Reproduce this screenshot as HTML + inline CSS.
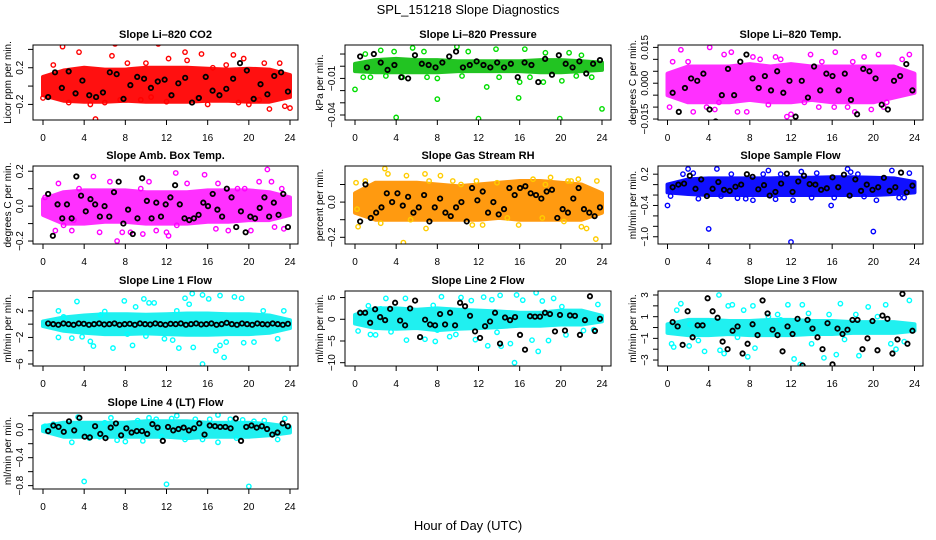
<!DOCTYPE html>
<html><head><meta charset="utf-8">
<style>
html,body{margin:0;padding:0;background:#fff;}
svg{display:block;font-family:"Liberation Sans",sans-serif;}
</style></head>
<body>
<svg id="chart" width="936" height="540" viewBox="0 0 936 540" xmlns="http://www.w3.org/2000/svg">
<rect width="936" height="540" fill="#fff"/>
<text x="468" y="14" font-size="13" text-anchor="middle">SPL_151218  Slope Diagnostics</text>
<text x="468" y="530" font-size="13" text-anchor="middle">Hour of Day (UTC)</text>
</svg>
<script>
const xTicks=[0,4,8,12,16,20,24];
const bandHours=[0,2,4,6,8,10,12,14,16,18,20,22,24];

const co2Lo=[-0.1,-0.16,-0.17,-0.17,-0.16,-0.17,-0.17,-0.17,-0.16,-0.16,-0.17,-0.17,-0.12];
const co2Hi=[0.1,0.17,0.2,0.18,0.18,0.2,0.2,0.2,0.19,0.18,0.19,0.18,0.12];
const co2Pts=[[0,-0.13],[1.9,0.43],[3.5,0.37],[4.6,-0.2],[5.1,-0.36],[6.7,0.33],[7,0.46],[7.5,-0.15],[8.2,0.25],[9.5,-0.15],[10.5,-0.12],[11.2,0.46],[12.2,0.3],[13.5,-0.45],[13.8,0.37],[15,-0.13],[15.4,0.35],[16.5,0.2],[17.8,0.23],[18.5,0.34],[19,-0.18],[19.5,0.3],[20,-0.2],[21.5,0.25],[22,-0.25],[23,0.25],[23.5,-0.22],[24,-0.24],[2.5,-0.18],[10,0.25],[12,-0.17],[16,-0.2],[1,0.23],[6,-0.18],[14,0.28],[21,-0.15]];
const co2Blk=[-0.12,0.15,-0.02,0.16,-0.08,0.06,-0.1,-0.12,-0.07,0.15,0.13,-0.14,0.01,0.1,0.08,-0.02,0.05,0.07,-0.1,0.03,0.09,-0.18,-0.13,0.1,-0.05,-0.1,-0.03,0.08,0.25,0.17,-0.14,0.02,-0.09,0.11,0.15,-0.06];

const presLo=[-0.004,-0.005,-0.005,-0.005,-0.005,-0.004,-0.004,-0.004,-0.004,-0.005,-0.005,-0.004,-0.003];
const presHi=[0.002,0.005,0.006,0.005,0.005,0.004,0.004,0.004,0.004,0.005,0.005,0.004,0.003];
const presPts=[[0,-0.019],[0.8,-0.009],[1.5,-0.009],[2.5,0.013],[3,-0.008],[4,-0.042],[4.6,-0.009],[5.6,0.015],[6.7,0.012],[7,-0.009],[8,-0.027],[8,-0.01],[9.9,0.016],[10.4,-0.008],[12,-0.043],[12.8,-0.017],[13.7,0.014],[14,-0.009],[15.9,-0.026],[16,-0.013],[16.5,0.014],[17,-0.009],[18.3,-0.013],[18.5,0.011],[19.9,-0.043],[20.1,-0.012],[20.8,0.011],[21.5,-0.008],[23,-0.009],[24,-0.035],[3.8,0.012],[11,0.012],[22,0.009],[1,0.01]];
const presBlk=[0.008,-0.001,0.01,0.003,-0.003,0.001,-0.009,-0.01,0.009,0.002,0.001,-0.001,0.003,0.008,0.012,-0.001,0.001,0.004,0.001,-0.001,0.003,-0.001,0.002,-0.009,0.003,0.001,-0.013,0.006,-0.007,0.009,0.002,-0.001,0.004,-0.006,0.002,0.005];

const tempLo=[-0.005,-0.008,-0.008,-0.008,-0.007,-0.008,-0.008,-0.007,-0.008,-0.008,-0.008,-0.006,-0.004];
const tempHi=[0.004,0.007,0.007,0.007,0.008,0.007,0.008,0.007,0.007,0.007,0.007,0.007,0.004];
const tempPts=[[0.2,-0.01],[1.3,0.014],[2.5,-0.012],[3.8,-0.01],[4.1,0.015],[4.6,-0.011],[5.5,0.012],[6.2,0.013],[6.8,-0.012],[7.7,-0.012],[8.3,0.011],[9.8,-0.009],[11,0.01],[11.6,-0.014],[12,-0.013],[13.3,-0.008],[13.9,0.012],[14.7,-0.01],[16.3,0.013],[16.2,-0.01],[17.5,-0.01],[18.2,-0.012],[19.1,0.011],[19.8,-0.011],[20.5,0.012],[21.3,-0.008],[22.8,0.01],[23.5,0.012],[2,0.009],[9,0.01],[15,0.009],[21,-0.01],[0.5,0.009],[5,-0.008],[10.5,0.011],[18,0.009]];
const tempBlk=[-0.004,-0.012,-0.002,0.002,0.001,0.004,-0.011,-0.016,-0.005,0.006,-0.005,0.009,0.012,0.002,-0.002,0.003,-0.003,0.005,-0.004,0.001,-0.014,0.001,-0.006,0.007,-0.003,0.004,0.003,-0.003,0.004,-0.007,-0.013,0.006,0.005,0.002,-0.009,-0.011,0.001,0.003,0.008,-0.003];

const ambLo=[-0.05,-0.1,-0.1,-0.09,-0.09,-0.1,-0.1,-0.1,-0.09,-0.09,-0.08,-0.08,-0.05];
const ambHi=[0.04,0.08,0.09,0.09,0.09,0.08,0.08,0.08,0.09,0.09,0.09,0.08,0.05];
const ambPts=[[1.2,-0.14],[1.5,0.13],[2,-0.11],[2.8,-0.14],[3.5,0.1],[4.9,0.17],[5.5,-0.15],[7.2,-0.2],[7.7,-0.15],[8.5,-0.15],[9.7,-0.16],[10.3,0.14],[11,-0.14],[12,-0.15],[12.2,-0.17],[12.9,0.19],[14,0.13],[15.7,0.18],[16.8,-0.13],[18,-0.14],[18.9,0.1],[19.6,0.1],[20.2,-0.14],[21,0.14],[22.2,0.14],[22.5,-0.12],[23.2,0.1],[23.4,-0.13],[21.8,0.21],[6.5,0.14],[9.5,0.1],[17,0.13],[3,-0.08],[13,-0.11],[0.2,0.05]];
const ambBlk=[0.07,-0.17,0.01,-0.07,0.01,-0.07,0.17,0.06,-0.03,0.04,0.01,-0.06,0.0,-0.06,0.08,0.14,-0.1,-0.02,-0.16,-0.07,0.16,0.03,-0.07,0.02,-0.06,0.01,0.05,0.12,0.01,-0.07,-0.08,-0.07,-0.05,0.02,0.0,0.07,-0.02,-0.06,0.1,0.05,-0.12,-0.03,-0.15,-0.06,-0.07,-0.01,0.05,-0.06,0.02,-0.05,0.07,-0.12];

const rhLo=[-0.06,-0.1,-0.1,-0.1,-0.1,-0.1,-0.1,-0.09,-0.1,-0.1,-0.1,-0.1,-0.06];
const rhHi=[0.05,0.11,0.11,0.11,0.1,0.09,0.1,0.11,0.12,0.12,0.11,0.1,0.05];
const rhPts=[[0.3,-0.14],[0.1,0.11],[1,0.12],[2.5,-0.12],[2.9,0.19],[3.2,0.16],[4.7,-0.23],[5,0.15],[6.8,0.16],[6.9,-0.15],[7.2,0.12],[8.3,0.15],[9.5,0.12],[10.3,0.1],[11.4,-0.13],[11.8,0.12],[12.4,-0.13],[13.8,0.11],[15.9,-0.13],[17.3,0.13],[18.2,-0.09],[19,0.14],[20.3,-0.11],[21,0.12],[21.7,0.13],[22,-0.14],[22.5,-0.15],[23.4,-0.21],[23.5,0.12],[0.2,-0.04],[5.4,-0.1],[14.8,-0.09],[18.5,0.1],[20.7,0.12]];
const rhBlk=[-0.11,0.1,-0.09,-0.06,-0.03,0.05,0.0,0.05,-0.02,0.03,-0.06,-0.03,0.04,-0.11,-0.03,0.02,-0.06,-0.08,-0.03,0.0,-0.11,0.08,0.01,0.06,-0.06,0.0,-0.07,-0.04,0.08,0.04,0.08,0.09,0.05,0.04,0.02,0.06,0.07,-0.09,-0.04,-0.06,0.02,0.08,-0.04,-0.06,-0.08,-0.03];

const sampLo=[-0.15,-0.18,-0.2,-0.2,-0.2,-0.2,-0.2,-0.2,-0.2,-0.2,-0.2,-0.18,-0.15];
const sampHi=[0.0,0.1,0.12,0.12,0.12,0.12,0.13,0.13,0.14,0.14,0.13,0.12,0.05];
const sampPts=[[0,-0.4],[0.3,-0.22],[2,0.3],[2.5,0.22],[4,-0.85],[4.8,0.3],[5.2,-0.22],[6.2,0.2],[7.6,-0.27],[8.3,-0.3],[9.3,0.2],[9.8,0.27],[10.5,-0.28],[12,-1.1],[12.2,-0.3],[13,0.25],[14,-0.25],[15.9,-0.4],[16.2,-0.25],[17.5,0.3],[17.8,0.24],[19.1,-0.23],[20,-0.9],[20.3,-0.3],[21.8,0.27],[22.5,-0.25],[23.5,0.22],[3,-0.27],[11,0.2],[14.5,0.22],[18.5,0.2],[6.8,-0.26],[1.5,0.2],[23,-0.25]];
const sampBlk=[-0.05,0.0,0.02,0.17,-0.08,0.1,-0.22,-0.08,0.05,-0.1,-0.12,-0.04,0.0,0.2,0.15,-0.09,-0.01,-0.21,-0.14,0.02,0.21,-0.14,0.06,0.17,0.01,0.0,-0.1,-0.07,0.14,-0.05,0.19,-0.21,0.1,-0.12,0.0,-0.1,-0.05,0.13,-0.12,-0.05,0.23,-0.15,-0.02];

const l1Lo=[-0.3,-1.0,-1.3,-1.5,-1.5,-1.4,-1.5,-1.6,-1.6,-1.5,-1.5,-1.3,-0.6];
const l1Hi=[0.4,1.0,1.3,1.5,1.5,1.4,1.5,1.6,1.6,1.5,1.5,1.3,0.6];
const l1Pts=[[1.5,2],[1.5,-2],[2.8,-2.1],[3.3,3.4],[3.8,-1.9],[4.6,-2.6],[4.9,-3.3],[5.6,1.4],[6.8,-3.6],[7.9,3.5],[8.2,-1.5],[8.7,-3.2],[9,2.6],[9.8,3.8],[10.3,3.2],[10.8,3.2],[11.8,-2.2],[12.6,-2.4],[13.2,-3.6],[13.8,3.9],[14.2,3.0],[14.5,4.6],[14.6,-3.5],[15.5,4.4],[15.5,-6],[16.1,3.8],[16.8,-4],[17.2,-3.2],[17.6,-5],[17.8,-2.7],[17.2,4.3],[18.6,4.1],[19.3,3.9],[19.5,-2.8],[20.5,-2.7],[21.4,2.0],[22.8,-2.2],[23.4,2.0],[13,2],[6,1.9],[2,1.1],[10,-1.8]];
const l1Blk=[0.1,0.0,-0.1,0.1,0.0,-0.1,0.1,0.05,-0.1,0.0,0.1,-0.05,0.0,0.1,-0.1,0.0,0.05,-0.1,0.1,0.0,-0.05,0.1,0.0,-0.1,0.05,0.0,0.1,-0.1,0.0,0.1,-0.05,0.0,0.1,-0.1,0.0,0.2,0.0,-0.1,0.1,0.0,-0.1,0.1,0.0,-0.05,0.1,0.0,-0.1,0.05];

const l2Lo=[-1,-2,-2.2,-2,-2.5,-2.2,-2,-1.8,-1.5,-1.5,-1.2,-1.2,-0.5];
const l2Hi=[1,2.5,2.5,2.2,2.5,2.2,2,1.8,1.5,1.5,2,2,0.8];
const l2Pts=[[0.3,-2.7],[1.3,3.1],[1.5,-3.5],[2,-3.6],[3,4.8],[3.5,-2.9],[4.9,4.8],[5,-4.8],[6.8,-4.6],[7.6,3.2],[7.8,-5.1],[8.4,5.2],[9.2,-4],[9.8,-3.5],[10.3,5.0],[11.3,4.3],[11.7,-4.7],[12.5,5.1],[12.9,-6.1],[13.3,4.5],[14.1,5.5],[14.2,-6.2],[15.1,-5.6],[15.5,-10],[15.7,5.6],[16.3,4.4],[17.2,-4.8],[17.6,6.1],[17.8,-7.4],[18.2,4.2],[18.8,-4.9],[19.3,4.8],[20.1,2.9],[20.5,-3.6],[22.2,-2.6],[23.2,-2.4],[23.6,3.4],[13.8,-3],[8,-2.5],[2.5,2.4]];
const l2Blk=[1.5,1.5,-0.8,2.3,0.5,-0.2,2.4,3.8,-0.3,-1.4,2.5,4.3,-4.1,-0.1,-1.2,-1.4,1.2,-1.2,1.5,-1.4,3.8,3.0,0.8,-2.8,-4.3,-1.6,-0.5,1.5,-5.6,0.4,-0.2,0.5,-3.6,-7.0,0.7,0.6,0.6,1.5,1.2,-2.8,1.0,-2.6,0.9,0.8,-3.6,-0.2,5.3,-2.7,0.1];

const l3Lo=[-0.5,-0.7,-0.7,-0.6,-0.7,-0.7,-0.7,-0.6,-0.6,-0.5,-0.5,-0.5,-0.3];
const l3Hi=[0.3,0.7,0.7,0.6,0.6,0.7,0.7,0.6,0.6,0.5,0.5,0.5,0.3];
const l3Pts=[[0.4,-1.5],[0.6,-1.8],[0.9,1.6],[1.3,2.2],[2.1,-1.7],[2.2,0.3],[3,-1.2],[3.6,-2.2],[5,3],[5.1,-2.1],[5.5,-2.4],[5.9,2.0],[6.3,2.1],[6.8,-0.9],[7.4,1.6],[7.8,-2.7],[8.3,2.0],[8.5,-1.9],[9.8,1.0],[10.7,1.2],[11.7,2.1],[12.3,-2.9],[12.9,-3.4],[13.1,2.1],[13.7,1.3],[14,-1.5],[15.2,-2.8],[15.7,1.2],[16.4,-2.5],[16.8,2.2],[17.2,-1.1],[18.3,1.2],[18.6,-2.6],[19.5,1.9],[20.4,1.0],[21.2,2.1],[21.7,-1.5],[22.2,-2],[23.5,2.5],[23,-1.3],[11,0.7],[3.9,0.5]];
const l3Blk=[0.5,0.1,-1.6,1.5,-0.9,0.2,0.2,2.7,1.5,0.9,-1.3,-2.0,-0.3,0.1,-2.4,-1.5,0.3,-0.7,2.5,1.3,-0.2,-0.7,-2.2,0.1,-0.6,0.8,-3.5,0.7,-0.1,-0.9,-2.0,0.4,-3.4,-0.1,-0.6,-0.2,0.7,0.7,-2.0,-1.0,0.6,-2.1,1.1,0.8,-2.4,-1.1,3.1,-1.5,-0.3];

const l4Lo=[-0.02,-0.1,-0.1,-0.1,-0.1,-0.1,-0.1,-0.12,-0.1,-0.1,-0.1,-0.08,-0.04];
const l4Hi=[0.05,0.1,0.1,0.1,0.1,0.12,0.12,0.12,0.1,0.1,0.1,0.08,0.04];
const l4Pts=[[0.2,0.05],[1,0.08],[2.8,-0.18],[3.4,0.18],[4,-0.74],[4.5,-0.12],[6,0.1],[6.6,0.17],[7.2,-0.15],[8,-0.17],[9.2,0.13],[9.7,-0.16],[10.3,0.17],[11,0.15],[12,-0.78],[12.5,0.16],[13,0.2],[13.8,-0.14],[14.8,0.15],[15.5,-0.14],[16.2,0.15],[17,0.21],[17,-0.18],[18.2,0.15],[19.4,0.14],[20,-0.81],[20.5,0.12],[21.5,0.13],[22.8,-0.14],[23.5,0.16],[5.5,-0.1],[11.5,-0.1],[18.8,-0.12]];
const l4Blk=[-0.02,0.06,0.04,-0.03,0.12,-0.01,0.17,-0.1,-0.11,0.05,-0.06,-0.12,0.03,0.09,-0.08,0.02,-0.04,-0.02,-0.02,-0.06,0.08,0.03,-0.16,0.04,-0.01,0.01,0.03,-0.01,0.02,0.09,-0.07,0.06,0.05,0.04,0.04,0.02,0.16,-0.16,0.04,0.06,0.03,0.05,0.01,-0.07,-0.04,0.09,0.05];

const panels=[
 {id:'co2',t:'Slope Li-820 CO2',yl:'Licor ppm per min.',c:0,r:0,d:[-0.37,0.448],ticks:[-0.2,0,0.2,0.4],labs:[-0.2,0.2],fmt:1,col:'#ff0000',band:'#ff1010',lo:co2Lo,hi:co2Hi,pts:co2Pts,blk:co2Blk},
 {id:'pressure',t:'Slope Li-820 Pressure',yl:'kPa per min.',c:1,r:0,d:[-0.0441,0.0174],ticks:[-0.04,-0.03,-0.02,-0.01,0,0.01],labs:[-0.04,-0.01],fmt:2,col:'#00dd00',band:'#22c422',lo:presLo,hi:presHi,pts:presPts,blk:presBlk},
 {id:'li820-temp',t:'Slope Li-820 Temp.',yl:'degrees C per min.',c:2,r:0,d:[-0.0154,0.016],ticks:[-0.015,-0.01,-0.005,0,0.005,0.01,0.015],labs:[-0.015,0,0.015],fmt:3,col:'#ff00ff',band:'#ff30ff',lo:tempLo,hi:tempHi,pts:tempPts,blk:tempBlk},
 {id:'amb-box-temp',t:'Slope Amb. Box Temp.',yl:'degrees C per min.',c:0,r:1,d:[-0.217,0.23],ticks:[-0.2,-0.1,0,0.1,0.2],labs:[-0.2,0,0.2],fmt:1,col:'#ff00ff',band:'#ff30ff',lo:ambLo,hi:ambHi,pts:ambPts,blk:ambBlk},
 {id:'gas-stream-rh',t:'Slope Gas Stream RH',yl:'percent per min.',c:1,r:1,d:[-0.238,0.205],ticks:[-0.2,-0.1,0,0.1],labs:[-0.2,0],fmt:1,col:'#ffcc00',band:'#ff9a10',lo:rhLo,hi:rhHi,pts:rhPts,blk:rhBlk},
 {id:'sample-flow',t:'Slope Sample Flow',yl:'ml/min per min.',c:2,r:1,d:[-1.139,0.357],ticks:[-1.0,-0.8,-0.6,-0.4,-0.2,0,0.2],labs:[-1.0,-0.4,0.2],fmt:1,col:'#0000ff',band:'#1010ff',lo:sampLo,hi:sampHi,pts:sampPts,blk:sampBlk},
 {id:'line1-flow',t:'Slope Line 1 Flow',yl:'ml/min per min.',c:0,r:2,d:[-6.3,4.99],ticks:[-6,-4,-2,0,2,4],labs:[-6,-2,2],fmt:0,col:'#00ffff',band:'#20f0f0',lo:l1Lo,hi:l1Hi,pts:l1Pts,blk:l1Blk},
 {id:'line2-flow',t:'Slope Line 2 Flow',yl:'ml/min per min.',c:1,r:2,d:[-10.76,6.51],ticks:[-10,-5,0,5],labs:[-10,-5,0,5],fmt:0,col:'#00ffff',band:'#20f0f0',lo:l2Lo,hi:l2Hi,pts:l2Pts,blk:l2Blk},
 {id:'line3-flow',t:'Slope Line 3 Flow',yl:'ml/min per min.',c:2,r:2,d:[-3.55,3.37],ticks:[-3,-2,-1,0,1,2,3],labs:[-3,-1,1,3],fmt:0,col:'#00ffff',band:'#20f0f0',lo:l3Lo,hi:l3Hi,pts:l3Pts,blk:l3Blk},
 {id:'line4-flow',t:'Slope Line 4 (LT) Flow',yl:'ml/min per min.',c:0,r:3,d:[-0.848,0.239],ticks:[-0.8,-0.6,-0.4,-0.2,0,0.2],labs:[-0.8,-0.4,0],fmt:1,col:'#00ffff',band:'#20f0f0',lo:l4Lo,hi:l4Hi,pts:l4Pts,blk:l4Blk}
];
const colBox=[[33,298],[345,611],[658,923]];
const colX0=[43,355,667.5];
const rowBox=[[45,120],[166,244],[291,366],[413,489]];
const NS='http://www.w3.org/2000/svg';
const svg=document.getElementById('chart');
function mk(tag,attrs,parent){const e=document.createElementNS(NS,tag);for(const k in attrs)e.setAttribute(k,attrs[k]);(parent||svg).appendChild(e);return e;}
function fmtv(v,f){let s=v.toFixed(f);if(Math.abs(v)<1e-12)s=(0).toFixed(f);return s.replace('-','\u2212');}

panels.forEach(p=>{
 const [bx0,bx1]=colBox[p.c],[by0,by1]=rowBox[p.r];
 const x0=colX0[p.c];
 const xs=h=>x0+h*(247/24);
 const ys=v=>by1-(v-p.d[0])/(p.d[1]-p.d[0])*(by1-by0);
 const g=mk('g',{});
 
 
 const clipId='clip-'+p.id;
 const cp=mk('clipPath',{id:clipId},g);
 mk('rect',{x:bx0,y:by0,width:bx1-bx0,height:by1-by0},cp);
 const plot=mk('g',{'clip-path':'url(#'+clipId+')'},g);
 
 
 // dense band
 let d='';
 bandHours.forEach((h,i)=>{d+=(i?'L':'M')+xs(h).toFixed(1)+','+ys(p.hi[i]).toFixed(1);});
 for(let i=bandHours.length-1;i>=0;i--)d+='L'+xs(bandHours[i]).toFixed(1)+','+ys(p.lo[i]).toFixed(1);
 const band=mk('path',{d:d+'Z',fill:p.band,stroke:p.band,'stroke-width':4,'stroke-linejoin':'round'},plot);
 
 
 p.pts.forEach(pt=>{
  const c=mk('circle',{cx:xs(pt[0]),cy:ys(pt[1]),r:2.2,fill:'none',stroke:p.col,'stroke-width':1.4},plot);
  
  
 });
 const nb=p.blk.length;
 p.blk.forEach((v,i)=>{
  const h=0.5+i*(23.3/(nb-1));
  const c=mk('circle',{cx:xs(h),cy:ys(v),r:2.2,fill:'none',stroke:'#000','stroke-width':1.8},plot);
  
  
 });
 const box=mk('rect',{x:bx0,y:by0,width:bx1-bx0,height:by1-by0,fill:'none',stroke:'#000','stroke-width':1},g);
 
 
 xTicks.forEach(t=>{
  const x=xs(t);
  mk('line',{x1:x,x2:x,y1:by1,y2:by1+5,stroke:'#000'},g);
  const tx=mk('text',{x:x,y:by1+21,'font-size':10,'text-anchor':'middle'},g);
  tx.textContent=t;
  
  
 });
 p.ticks.forEach(t=>{
  const y=ys(t);
  mk('line',{x1:bx0-5,x2:bx0,y1:y,y2:y,stroke:'#000'},g);
 });
 p.labs.forEach(t=>{
  const y=ys(t),x=bx0-10;
  const tx=mk('text',{x:x,y:y,'font-size':10,'text-anchor':'middle',transform:'rotate(-90 '+x+' '+y+')'},g);
  tx.textContent=fmtv(t,p.fmt);
  
  
 });
 const yc=(by0+by1)/2,yx=bx0-22;
 const yt=mk('text',{x:yx,y:yc,'font-size':10,'text-anchor':'middle',transform:'rotate(-90 '+yx+' '+yc+')'},g);
 yt.textContent=p.yl;
 
 
 const tt=mk('text',{x:(bx0+bx1)/2,y:by0-7,'font-size':11,'font-weight':'bold','text-anchor':'middle'},g);
 tt.textContent=p.t.replace('-','\u2013');
 
 
});
</script>
</body></html>
